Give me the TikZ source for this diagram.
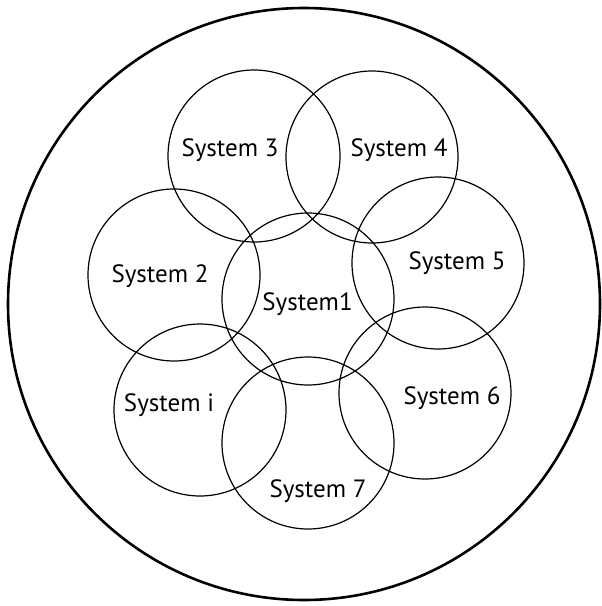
\documentclass[tikz,border=0pt]{standalone}
\usepackage{fontspec}
\setmainfont{PT Sans}
\begin{document}
\begin{tikzpicture}[x=1pt,y=-1pt,
  sys/.style={circle,draw,line width=1.2pt,minimum size=172pt,inner sep=0pt},
  lbl/.style={anchor=base,inner sep=0pt,font=\fontsize{25}{30}\selectfont}]
\useasboundingbox (0,0) rectangle (602,606);
\node[circle,draw,line width=2.6pt,minimum size=592pt,inner sep=0pt] (outer) at (304,304) {};
\node[sys] (c3) at (254,156) {};
\node[sys] (c4) at (372,157) {};
\node[sys] (c2) at (174,275) {};
\node[sys] (c1) at (308,299) {};
\node[sys] (c5) at (438,263) {};
\node[sys] (ci) at (200,410) {};
\node[sys] (c7) at (308,443) {};
\node[sys] (c6) at (425,393) {};
\node[lbl] (t3) at (230,156) {System 3};
\node[lbl] (t4) at (399,156) {System 4};
\node[lbl] (t2) at (160,282) {System 2};
\node[lbl] (t5) at (457,269) {System 5};
\node[lbl] (t1) at (307.5,310) {System1};
\node[lbl] (ti) at (169,411) {System i};
\node[lbl] (t6) at (452,404) {System 6};
\node[lbl] (t7) at (318,497) {System 7};
\end{tikzpicture}
\end{document}
